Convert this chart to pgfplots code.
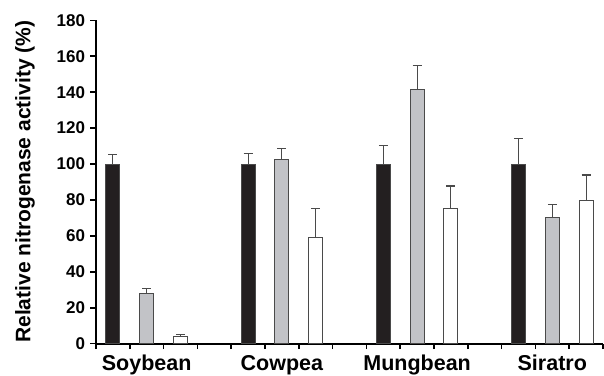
\documentclass[border=0pt]{standalone}
\usepackage{fontspec}
\setmainfont{Liberation Sans}
\usepackage{pgfplots}
\pgfplotsset{compat=1.18}
\definecolor{barblack}{HTML}{231F20}
\definecolor{bargrey}{HTML}{C2C3C7}
\definecolor{edge}{HTML}{4A4A4A}
\newcommand{\tl}[1]{\fontsize{17}{18}\selectfont\bfseries #1}
\begin{document}
\begin{tikzpicture}
\begin{axis}[
  at={(0,0)}, anchor=south west,
  scale only axis, width=507pt, height=323.4pt,
  xmin=0, xmax=15, ymin=0, ymax=180,
  axis lines*=left,
  axis line style={line width=1.8pt, black},
  tick align=outside,
  tick style={line width=1.5pt, black},
  xtick={0,...,15}, xticklabels={},
  major tick length=5.5pt,
  ytick={0,20,...,180},
  yticklabels={\tl{0},\tl{20},\tl{40},\tl{60},\tl{80},\tl{100},\tl{120},\tl{140},\tl{160},\tl{180}},
  yticklabel style={xshift=-2pt, text=black},
  extra x ticks={1.5,5.5,9.5,13.5},
  extra x tick labels={Soybean,Cowpea,Mungbean,Siratro},
  extra x tick style={major tick length=0pt, ticklabel style={font=\fontsize{21.5}{23}\selectfont\bfseries, yshift=-8pt}},
  clip=false,
  error bars/y dir=plus, error bars/y explicit,
  error bars/error bar style={line width=1.1pt, edge},
  error bars/error mark options={rotate=90, mark size=4.5pt, line width=1.1pt, edge},
]
\addplot[ybar, bar width=14pt, bar shift=0pt, fill=barblack, draw=edge, line width=1pt]
  coordinates {(0.5,100) +- (0,5.4) (4.5,100) +- (0,6.0) (8.5,100) +- (0,10.2) (12.5,100) +- (0,14.3)};
\addplot[ybar, bar width=14pt, bar shift=0pt, fill=bargrey, draw=edge, line width=1pt]
  coordinates {(1.5,28.0) +- (0,2.6) (5.5,102.6) +- (0,6.1) (9.5,141.6) +- (0,13.3) (13.5,70.1) +- (0,7.5)};
\addplot[ybar, bar width=14pt, bar shift=0pt, fill=white, draw=edge, line width=1pt]
  coordinates {(2.5,4.2) +- (0,0.7) (6.5,59.2) +- (0,16.3) (10.5,75.5) +- (0,12.3) (14.5,79.6) +- (0,14.3)};
\end{axis}
\node[rotate=90, font=\fontsize{21}{22}\selectfont\bfseries] at (-71pt,162pt) {Relative nitrogenase activity (\%)};
\pgfresetboundingbox
\path[use as bounding box] (-96pt,-31.3pt) rectangle (508pt,343.7pt);
\end{tikzpicture}
\end{document}
